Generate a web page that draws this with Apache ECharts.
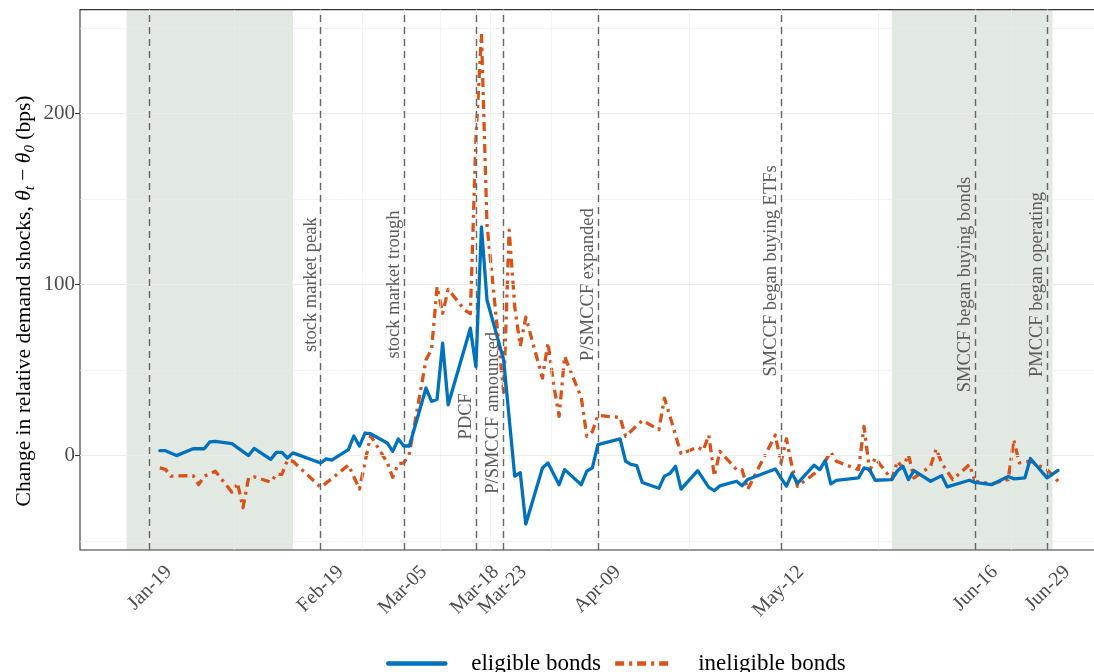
<!DOCTYPE html>
<html><head><meta charset="utf-8">
<script src="https://cdn.jsdelivr.net/npm/echarts@6/dist/echarts.min.js"></script>
<style>html,body{margin:0;padding:0;background:#fff;overflow:hidden;width:1094px;height:672px}#c{width:1110px;height:672px}</style>
</head><body><div id="c"></div>
<script>
// ---------- data ----------
const eligDates = ['2020-01-21','2020-01-22','2020-01-24','2020-01-27','2020-01-29','2020-01-30','2020-01-31','2020-02-03','2020-02-06','2020-02-07','2020-02-10','2020-02-11','2020-02-12','2020-02-13','2020-02-14','2020-02-19','2020-02-20','2020-02-21','2020-02-24','2020-02-25','2020-02-26','2020-02-27','2020-02-28','2020-03-02','2020-03-03','2020-03-04','2020-03-05','2020-03-06','2020-03-09','2020-03-10','2020-03-11','2020-03-12','2020-03-13','2020-03-17','2020-03-18','2020-03-19','2020-03-20','2020-03-23','2020-03-25','2020-03-26','2020-03-27','2020-03-30','2020-03-31','2020-04-02','2020-04-03','2020-04-06','2020-04-07','2020-04-08','2020-04-09','2020-04-13','2020-04-14','2020-04-15','2020-04-16','2020-04-17','2020-04-20','2020-04-21','2020-04-22','2020-04-23','2020-04-24','2020-04-27','2020-04-29','2020-04-30','2020-05-01','2020-05-04','2020-05-05','2020-05-06','2020-05-11','2020-05-12','2020-05-13','2020-05-14','2020-05-15','2020-05-18','2020-05-19','2020-05-20','2020-05-21','2020-05-22','2020-05-26','2020-05-27','2020-05-28','2020-05-29','2020-06-01','2020-06-02','2020-06-03','2020-06-04','2020-06-05','2020-06-08','2020-06-10','2020-06-11','2020-06-15','2020-06-16','2020-06-19','2020-06-22','2020-06-23','2020-06-25','2020-06-26','2020-06-29','2020-07-01'];
const eligVals = [2.9,2.9,0,4,4,8,8.3,7,0,4.2,-2.2,1.9,1.9,-1.4,1.6,-4.3,-1.9,-2.6,3.5,11.5,5.6,13.2,12.8,7.4,2.5,9.7,5.6,5.6,39.5,31.7,33,65.7,29.7,74.5,52,133.7,91,56,-12,-10,-40,-7.2,-4.3,-17,-8.2,-17,-9.1,-7.2,6.4,9.8,-3.3,-5.2,-5.8,-15.7,-19.1,-12,-10.5,-6.2,-19.6,-8.8,-18.6,-20.5,-17.7,-15,-17.6,-14,-7.8,-13,-17.9,-10.5,-16.2,-5.6,-8.2,-3,-16.5,-14.5,-13,-7.2,-8.2,-14.4,-14,-9,-6.2,-14,-8.8,-15,-11.7,-18.3,-14.4,-15.7,-17,-12.2,-13.6,-13,-1.7,-13,-8.7];

const inelDates = ['2020-01-21','2020-01-22','2020-01-23','2020-01-27','2020-01-28','2020-01-29','2020-01-31','2020-02-03','2020-02-04','2020-02-05','2020-02-06','2020-02-07','2020-02-10','2020-02-11','2020-02-12','2020-02-13','2020-02-14','2020-02-19','2020-02-21','2020-02-24','2020-02-26','2020-02-28','2020-03-02','2020-03-03','2020-03-04','2020-03-05','2020-03-06','2020-03-09','2020-03-10','2020-03-11','2020-03-12','2020-03-13','2020-03-16','2020-03-17','2020-03-18','2020-03-19','2020-03-20','2020-03-23','2020-03-24','2020-03-25','2020-03-26','2020-03-27','2020-03-30','2020-03-31','2020-04-01','2020-04-02','2020-04-03','2020-04-06','2020-04-07','2020-04-08','2020-04-09','2020-04-13','2020-04-14','2020-04-17','2020-04-20','2020-04-21','2020-04-22','2020-04-24','2020-04-27','2020-04-28','2020-04-29','2020-04-30','2020-05-01','2020-05-04','2020-05-05','2020-05-06','2020-05-11','2020-05-12','2020-05-13','2020-05-14','2020-05-15','2020-05-19','2020-05-21','2020-05-22','2020-05-26','2020-05-27','2020-05-28','2020-05-29','2020-06-01','2020-06-02','2020-06-03','2020-06-04','2020-06-05','2020-06-08','2020-06-09','2020-06-10','2020-06-12','2020-06-15','2020-06-16','2020-06-19','2020-06-22','2020-06-23','2020-06-24','2020-06-26','2020-06-29','2020-07-01'];
const inelVals = [-7.2,-8,-12,-11.7,-17,-12,-9.1,-21.4,-16,-30.5,-13,-12.4,-15.5,-11,-11,-2.7,-3.3,-18.5,-13.5,-5.5,-19.5,11.8,-4,-12.7,-4.8,-4.3,1.2,56,62,98.7,83.2,97.2,85,83,185,246.5,135,37,131.8,87,64,81,45.3,66,42,23,58,34,11.3,14,23.5,22.3,11.3,20.5,15.2,33.6,23,1,5,3,12,-12,2.5,-8.2,-8.2,-19.8,12,-4.3,9.8,-6.2,-18,-8.2,2,-3.3,-8.2,17,-9.1,-1.4,-14,-3.3,-7.2,0.6,-13,-6.2,3.9,-4.3,-14,-5.2,-15,-16.5,-14,9.3,-4.3,-3.3,-8.2,-15];

const eventDates = ['2020-01-19','2020-02-19','2020-03-05','2020-03-18','2020-03-23','2020-04-09','2020-05-12','2020-06-16','2020-06-29'];
const tickLabels = ['Jan-19','Feb-19','Mar-05','Mar-18','Mar-23','Apr-09','May-12','Jun-16','Jun-29'];
const eventLabels = ['','stock market peak','stock market trough','PDCF','P/SMCCF announced','P/SMCCF expanded','SMCCF began buying ETFs','SMCCF began buying bonds','PMCCF began operating'];
const eventLabelY = [0,100,100,23,25,100,108,100,100];

const shadeStarts = ['2020-01-15','2020-06-01'];
const shadeEnds = ['2020-02-14','2020-06-30'];

const yTickValues = [0,100,200];
const yMinorValues = [-50,50,150,250];

// ---------- helpers ----------
const ts = s => +new Date(s + 'T00:00:00');
const FONT = '"Liberation Serif", "DejaVu Serif", serif';
const GRID = '#ebebeb';
const eventTs = eventDates.map(ts);
const midTs = [];
for (let i = 0; i < eventTs.length - 1; i++) midTs.push((eventTs[i] + eventTs[i+1]) / 2);

const eligData = eligDates.map((d,i)=>[ts(d), eligVals[i]]);
const inelData = inelDates.map((d,i)=>[ts(d), inelVals[i]]);

const gridLines = [];
yTickValues.forEach(v=>gridLines.push({yAxis:v, lineStyle:{color:GRID,width:1.2,type:'solid'}}));
yMinorValues.forEach(v=>gridLines.push({yAxis:v, lineStyle:{color:GRID,width:0.6,type:'solid'}}));
midTs.forEach(v=>gridLines.push({xAxis:v, lineStyle:{color:GRID,width:0.6,type:'solid'}}));
eventTs.forEach(v=>gridLines.push({xAxis:v, lineStyle:{color:GRID,width:1.2,type:'solid'}}));

const chart = echarts.init(document.getElementById('c'), null, {renderer:'canvas'});
const option = {
  animation:false,
  backgroundColor:'#fff',
  grid:{left:80, top:9.6, right:5.3, bottom:122, show:true, borderColor:'#333', borderWidth:1.1, backgroundColor:'transparent'},
  xAxis:{
    type:'value',
    min: ts('2020-01-06') + 14.4*3600e3,
    max: ts('2020-07-09') + 9.6*3600e3,
    splitLine:{show:false},
    axisLine:{show:false},
    axisTick:{show:true, length:5, lineStyle:{color:'#333', width:1.1}, customValues:eventTs},
    axisLabel:{show:false}
  },
  yAxis:{
    type:'value', min:-55.2, max:260.8,
    splitLine:{show:false},
    axisLine:{show:false},
    axisTick:{show:true, length:5, lineStyle:{color:'#333', width:1.1}, customValues:yTickValues},
    axisLabel:{customValues:yTickValues, fontFamily:FONT, fontSize:21, color:'#4d4d4d', margin:5}
  },
  legend:{
    left:381, top:647, itemWidth:57, itemHeight:14, itemGap:12,
    data:['eligible bonds','ineligible bonds'],
    itemStyle:{opacity:0},
    lineStyle:{width:4.5},
    textStyle:{fontFamily:FONT, fontSize:23, color:'#000', padding:[0,0,0,21]}
  },
  series:[
    {name:'grid', type:'line', data:[], z:1, silent:true,
     markLine:{silent:true, symbol:'none', label:{show:false}, data:gridLines}},
    {name:'shade', type:'line', data:[], z:2, silent:true,
     markArea:{silent:true, itemStyle:{color:'rgba(110,140,110,0.2)'},
       data: shadeStarts.map((s,i)=>[{xAxis:ts(s)},{xAxis:ts(shadeEnds[i])}])}},
    {name:'events', type:'line', data:[], z:3, silent:true,
     markLine:{silent:true, symbol:'none', label:{show:false},
       lineStyle:{color:'#666', width:1.4, type:[7,5]},
       data: eventTs.map(v=>({xAxis:v}))}},
    {name:'eligible bonds', type:'line', data:eligData, z:5, showSymbol:false, symbol:'none',
     color:'#0072BD', lineStyle:{color:'#0072BD', width:3.3, join:'round', cap:'round'}},
    {name:'ineligible bonds', type:'line', data:inelData, z:4, showSymbol:false, symbol:'none',
     color:'#D95319', lineStyle:{color:'#D95319', width:3.3, type:[9,5,3,5], join:'round'}}
  ]
};
chart.setOption(option);

const g = [];
eventLabels.forEach((t,i)=>{
  if (!t) return;
  const p = chart.convertToPixel({xAxisIndex:0, yAxisIndex:0}, [eventTs[i], eventLabelY[i]]);
  g.push({type:'text', x:p[0]-10, y:p[1], rotation:Math.PI/2, z:10, silent:true,
    style:{text:t, font:'18.5px ' + FONT, fill:'#5a5a5a', align:'center', verticalAlign:'middle'}});
});
// rotated x tick labels, anchored at each break through the axis scale
const yBase = chart.convertToPixel({yAxisIndex:0}, -55.2);
tickLabels.forEach((t,i)=>{
  const px = chart.convertToPixel({xAxisIndex:0}, eventTs[i]);
  g.push({type:'text', x:px+20, y:yBase+19, rotation:Math.PI/4, z:10, silent:true,
    style:{text:t, font:'20px ' + FONT, fill:'#4d4d4d', align:'right', verticalAlign:'middle'}});
});
g.push({type:'text', x:24, y:301, rotation:Math.PI/2, z:10, silent:true,
  style:{
    text:'{a|Change in relative demand shocks, }{m|θ}{s|t}{a| − }{m|θ}{s|0}{a| (bps)}',
    align:'center', verticalAlign:'middle', fill:'#000',
    rich:{
      a:{fontFamily:FONT, fontSize:21.5, fill:'#000', lineHeight:28},
      m:{fontFamily:FONT, fontSize:21.5, fontStyle:'italic', fill:'#000', lineHeight:28},
      s:{fontFamily:FONT, fontSize:15, fontStyle:'italic', fill:'#000', lineHeight:28, verticalAlign:'bottom', padding:[9,0,0,0]}
    }
  }});
chart.setOption({graphic:g});
</script></body></html>
